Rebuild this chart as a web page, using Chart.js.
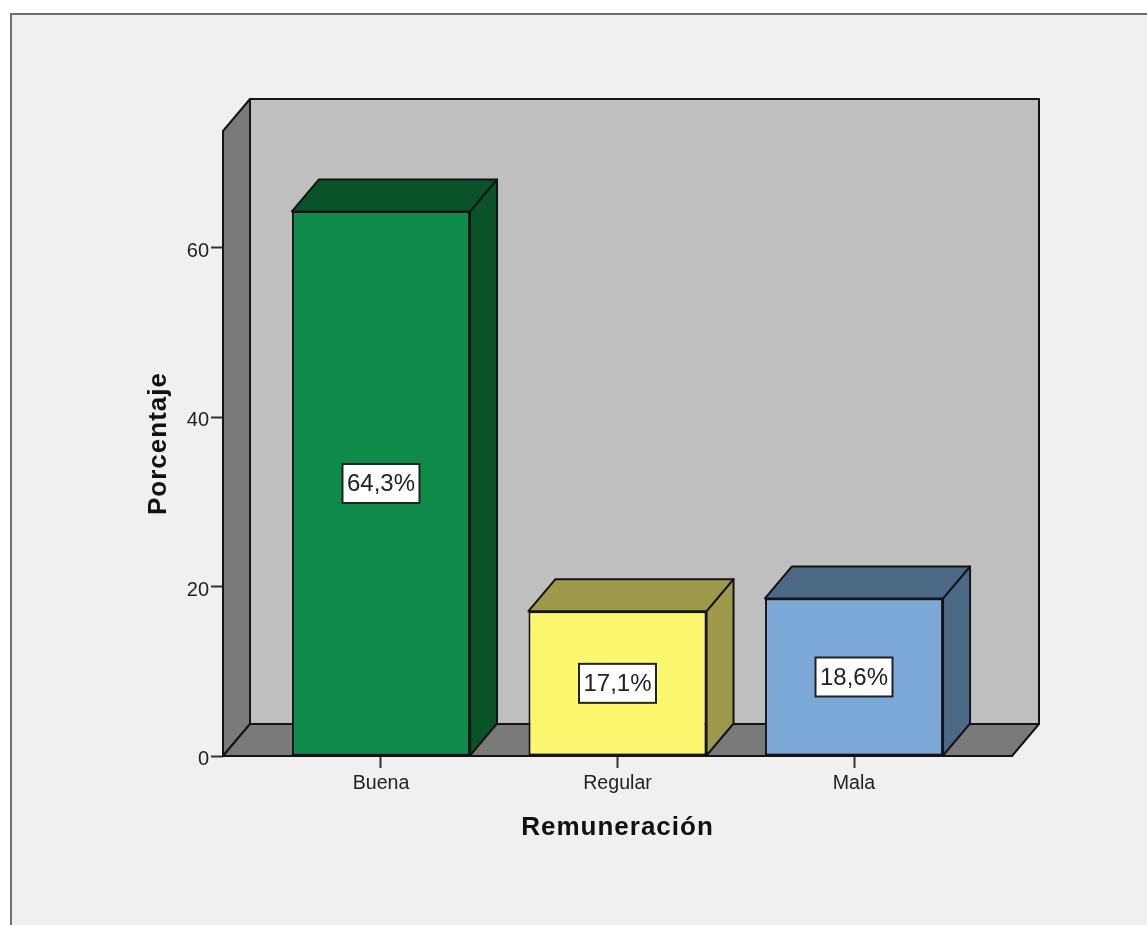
<!DOCTYPE html>
<html>
<head>
<meta charset="utf-8">
<title>Remuneración</title>
<script src="https://cdn.jsdelivr.net/npm/chart.js@4"></script>
<style>
  html, body { margin: 0; padding: 0; background: #fff; }
  .frame { position: absolute; left: 10px; top: 13px; right: 0; bottom: 0; background: #f0f0f0;
    border-left: 2px solid #6e6e6e; border-top: 2px solid #6e6e6e; }
  .wrap { position: relative; width: 1147px; height: 925px; overflow: hidden; }
  canvas { position: absolute; left: 0; top: 0; }
</style>
</head>
<body>
<div class="wrap">
  <div class="frame"></div>
  <canvas id="chart" width="1147" height="925"></canvas>
</div>
<script>
const categories = ['Buena', 'Regular', 'Mala']
const percentages = [64.3, 17.1, 18.6]
const percentLabels = ['64,3%', '17,1%', '18,6%']
const yTicks = [0, 20, 40, 60]
const faceColors = ['#0f8c4a', '#fbf76f', '#7ba8d6']
const sideColors = ['#0a5329', '#9c9a4a', '#4c6a85']

// Oblique offset of the back of the box
const DEPTH_X = 27
const DEPTH_Y = 32
const EDGE = '#141414'

function polygon (ctx, points, fill) {
  ctx.beginPath()
  points.forEach(([x, y], i) => (i ? ctx.lineTo(x, y) : ctx.moveTo(x, y)))
  ctx.closePath()
  ctx.fillStyle = fill
  ctx.fill()
  ctx.stroke()
}

// Back wall, left wall and floor, then the depth faces of each bar
const box3d = {
  id: 'box3d',
  // Axis titles are drawn in the grid layer, before the tick labels (z: 1)
  beforeDraw (chart) {
    chart.ctx.letterSpacing = '1px'
  },
  beforeDatasetsDraw (chart) {
    const { ctx, chartArea: { left, right, top, bottom } } = chart
    const dx = DEPTH_X
    const dy = DEPTH_Y

    ctx.letterSpacing = '0px'
    ctx.save()
    ctx.lineWidth = 2
    ctx.lineJoin = 'round'
    ctx.strokeStyle = EDGE

    polygon(ctx, [[left + dx, top - dy], [right + dx, top - dy], [right + dx, bottom - dy], [left + dx, bottom - dy]], '#bfbfbf')
    polygon(ctx, [[left, top], [left + dx, top - dy], [left + dx, bottom - dy], [left, bottom]], '#7a7a7a')
    polygon(ctx, [[left, bottom], [left + dx, bottom - dy], [right + dx, bottom - dy], [right, bottom]], '#7a7a7a')

    chart.getDatasetMeta(0).data.forEach((bar, i) => {
      const { x, y, base, width } = bar.getProps(['x', 'y', 'base', 'width'], true)
      const l = x - width / 2
      const r = x + width / 2
      polygon(ctx, [[r, y], [r + dx, y - dy], [r + dx, base - dy], [r, base]], sideColors[i])
      polygon(ctx, [[l, y], [l + dx, y - dy], [r + dx, y - dy], [r, y]], sideColors[i])
    })
    ctx.restore()
  }
}

// White value boxes centred on the front face of each bar
const valueBoxes = {
  id: 'valueBoxes',
  afterDatasetsDraw (chart) {
    const { ctx } = chart
    ctx.save()
    ctx.font = '24px "Liberation Sans", Arial, sans-serif'
    ctx.textAlign = 'center'
    ctx.textBaseline = 'middle'
    chart.getDatasetMeta(0).data.forEach((bar, i) => {
      const { x, y, base } = bar.getProps(['x', 'y', 'base'], true)
      const mid = (y + base) / 2
      ctx.fillStyle = '#fff'
      ctx.strokeStyle = '#222'
      ctx.lineWidth = 2
      ctx.fillRect(x - 38.5, mid - 19.5, 77, 39)
      ctx.strokeRect(x - 38.5, mid - 19.5, 77, 39)
      ctx.fillStyle = '#222'
      ctx.fillText(percentLabels[i], x, mid + 1)
    })
    ctx.restore()
  }
}

new Chart(document.getElementById('chart'), {
  type: 'bar',
  data: {
    datasets: [{
      data: percentages.map((y, x) => ({ x, y })),
      backgroundColor: faceColors,
      borderColor: EDGE,
      borderWidth: 2,
      borderSkipped: false,
      barPercentage: 0.753,
      categoryPercentage: 1
    }]
  },
  plugins: [box3d, valueBoxes],
  options: {
    responsive: false,
    animation: false,
    layout: { padding: { top: 131, right: 135 } },
    plugins: { legend: { display: false }, tooltip: { enabled: false } },
    scales: {
      x: {
        type: 'linear',
        offset: false,
        min: -0.668,
        max: 2.668,
        border: { display: false },
        grid: { offset: false, drawOnChartArea: false, tickLength: 12, tickWidth: 2, tickColor: '#333' },
        afterBuildTicks: scale => { scale.ticks = categories.map((_, value) => ({ value })) },
        afterFit: scale => { scale.height = 169 },
        ticks: {
          color: '#222',
          padding: 4,
          maxRotation: 0,
          z: 1,
          font: { family: '"Liberation Sans", Arial, sans-serif', size: 19.6 },
          callback: value => categories[value]
        },
        title: {
          display: true,
          text: 'Remuneración',
          color: '#111',
          padding: { top: 0, bottom: 82 },
          font: { family: '"Liberation Sans", Arial, sans-serif', size: 26, weight: 'bold' }
        }
      },
      y: {
        min: 0,
        max: 73.8,
        border: { display: false },
        grid: { drawOnChartArea: false, tickLength: 12, tickWidth: 2, tickColor: '#333' },
        afterBuildTicks: scale => { scale.ticks = yTicks.map(value => ({ value })) },
        afterFit: scale => { scale.width = 223 },
        ticks: {
          color: '#222',
          padding: 2,
          labelOffset: 3.5,
          z: 1,
          font: { family: '"Liberation Sans", Arial, sans-serif', size: 20 }
        },
        title: {
          display: true,
          text: 'Porcentaje',
          color: '#111',
          padding: { top: 143, bottom: 0 },
          font: { family: '"Liberation Sans", Arial, sans-serif', size: 26, weight: 'bold' }
        }
      }
    }
  }
})
</script>
</body>
</html>
